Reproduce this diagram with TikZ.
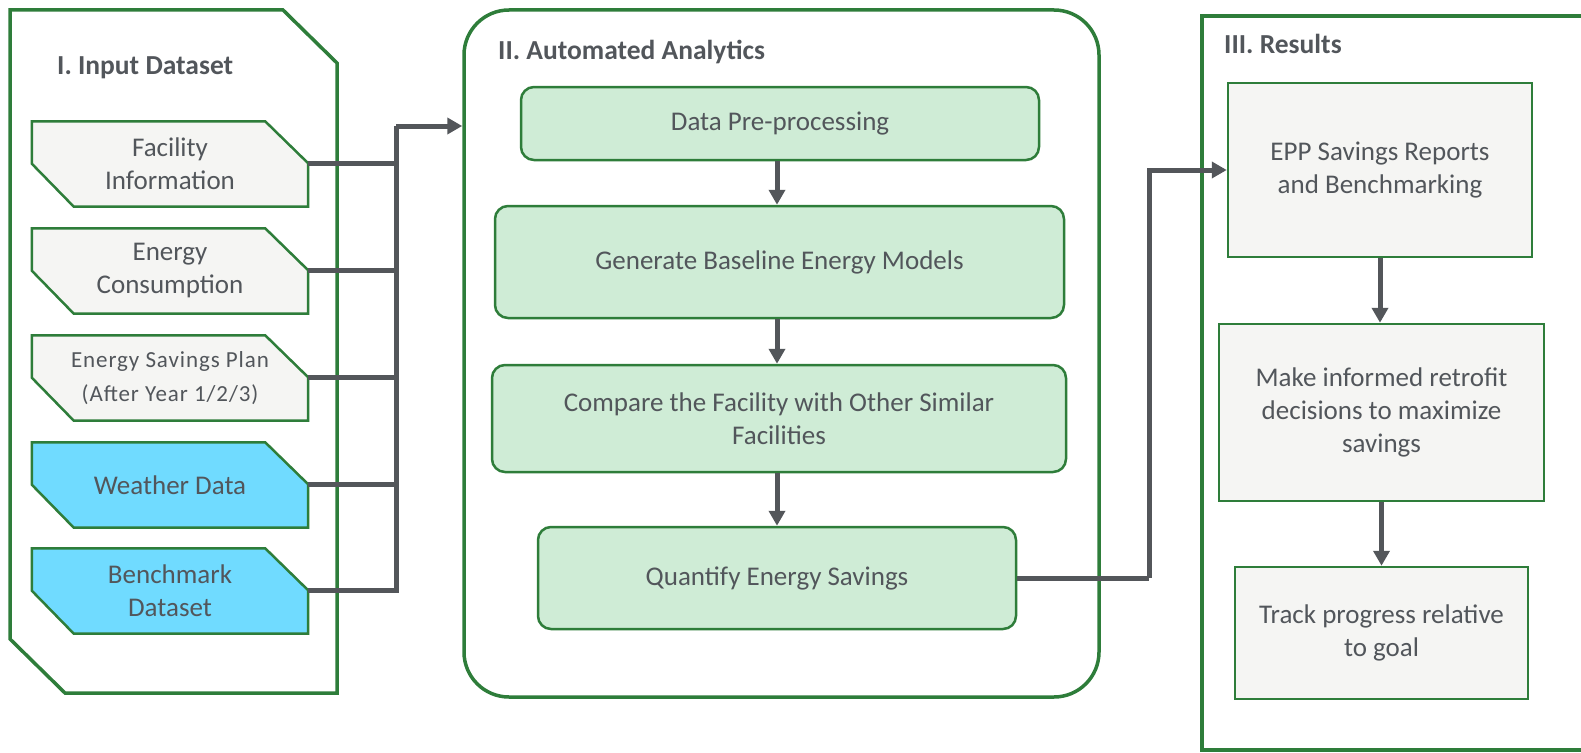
\documentclass[tikz,border=0pt]{standalone}
\usepackage{fontspec}
\setmainfont{Carlito}
\newfontfamily\planfont[LetterSpace=4]{Carlito}
\usetikzlibrary{arrows.meta}
\pgfdeclarelayer{background}
\pgfsetlayers{background,main}
\definecolor{panelgreen}{RGB}{46,125,58}
\definecolor{boxgray}{RGB}{245,245,243}
\definecolor{skyblue}{RGB}{112,219,255}
\definecolor{mint}{RGB}{207,236,214}
\definecolor{textgray}{RGB}{82,86,91}
\definecolor{linkgray}{RGB}{83,86,90}
\tikzset{
  panel/.style={draw=panelgreen, line width=3.5pt, fill=none, inner sep=0pt},
  paneltitle/.style={anchor=west, inner sep=0pt, text=textgray,
    font=\fontsize{27.5}{32}\selectfont\bfseries},
  boxtext/.style={align=center, inner sep=0pt, text=textgray,
    font=\fontsize{27}{33}\selectfont},
  inputbox/.style={boxtext, rectangle, minimum width=276pt, minimum height=85pt},
  inputedge/.style={draw=panelgreen, line width=2.5pt, line join=miter},
  stepbox/.style={boxtext, rectangle, rounded corners=13pt, draw=panelgreen,
    line width=2.5pt, fill=mint},
  resultbox/.style={boxtext, rectangle, draw=panelgreen, line width=2.5pt,
    fill=boxgray},
  link/.style={draw=linkgray, line width=5pt},
  linkarrow/.style={link, -{Triangle[length=15pt,width=16pt]}}
}
\begin{document}
\begin{tikzpicture}[x=1pt,y=-1pt]
	\useasboundingbox (0,0) rectangle (1581,752);
	\clip (0,0) rectangle (1581,752);
	% panels
	\draw[panel] (10,10) -- (283,10) -- (337,63) -- (337,693) -- (65,693) -- (10,639) -- cycle;
	\node[panel, rectangle, rounded corners=45pt, minimum width=635pt, minimum height=687pt] (analytics) at (781.5,353.5) {};
	\node[panel, rectangle, minimum width=498pt, minimum height=734pt] (results) at (1451,383) {};
	\node[paneltitle] (inputtitle) at (57,68) {I. Input Dataset};
	\node[paneltitle] (analyticstitle) at (498,52) {II. Automated Analytics};
	\node[paneltitle] (resultstitle) at (1224,44) {III. Results};
	% input data
	\node[inputbox] (fac) at (170,164) {Facility\\Information};
	\node[inputbox] (cons) at (170,271) {Energy\\Consumption};
	\node[inputbox, font=\fontsize{23}{34}\selectfont\planfont] (plan) at (170,378) {Energy Savings Plan\\(After Year 1/2/3)};
	\node[inputbox] (wea) at (170,485) {Weather Data};
	\node[inputbox] (bench) at (170,591) {Benchmark\\Dataset};
	\begin{pgfonlayer}{background}
		\foreach \src/\shade in {fac/boxgray,cons/boxgray,plan/boxgray,wea/skyblue,bench/skyblue}
			\filldraw[inputedge, fill=\shade] (\src.north west) -- ([xshift=-43pt]\src.north east)
				-- ([yshift=-42pt]\src.north east) -- (\src.south east)
				-- ([xshift=42pt]\src.south west) -- ([yshift=43pt]\src.south west) -- cycle;
	\end{pgfonlayer}
	% analytics
	\node[stepbox, minimum width=518pt, minimum height=73pt] (pre) at (780,123.5) {Data Pre-processing};
	\node[stepbox, minimum width=569pt, minimum height=112pt] (base) at (779.5,262) {Generate Baseline Energy Models};
	\node[stepbox, minimum width=574pt, minimum height=107pt] (comp) at (779,418.5) {Compare the Facility with Other Similar\\Facilities};
	\node[stepbox, minimum width=478pt, minimum height=102pt] (quant) at (777,578) {Quantify Energy Savings};
	% results
	\node[resultbox, minimum width=304pt, minimum height=174pt] (epp) at (1380,170) {EPP Savings Reports\\and Benchmarking};
	\node[resultbox, minimum width=325pt, minimum height=177pt] (make) at (1381.5,412.5) {Make informed retrofit\\decisions to maximize\\savings};
	\node[resultbox, minimum width=293pt, minimum height=132pt] (track) at (1381.5,633) {Track progress relative\\to goal};
	%
	\coordinate (bustop) at (396,126);
	\coordinate (turn) at (1149,578);
	\foreach \src in {fac,cons,plan,wea}
		\draw[link] ([yshift=-42pt]\src.north east) -- ([yshift=-42pt]\src.north east -| bustop);
	\draw[link] ([yshift=-42pt]bench.north east) -| (bustop);
	\draw[linkarrow] (bustop) -- (bustop -| analytics.west);
	\draw[linkarrow] (pre.south -| 777,0) -- (base.north -| 777,0);
	\draw[linkarrow] (base.south -| 777,0) -- (comp.north -| 777,0);
	\draw[linkarrow] (comp.south -| 777,0) -- (quant.north -| 777,0);
	\draw[link] (quant.east) -- (turn);
	\draw[linkarrow] (turn) |- (epp.west);
	\draw[linkarrow] (epp.south) -- (make.north -| epp.south);
	\draw[linkarrow] (make.south) -- (track.north);
\end{tikzpicture}
\end{document}
